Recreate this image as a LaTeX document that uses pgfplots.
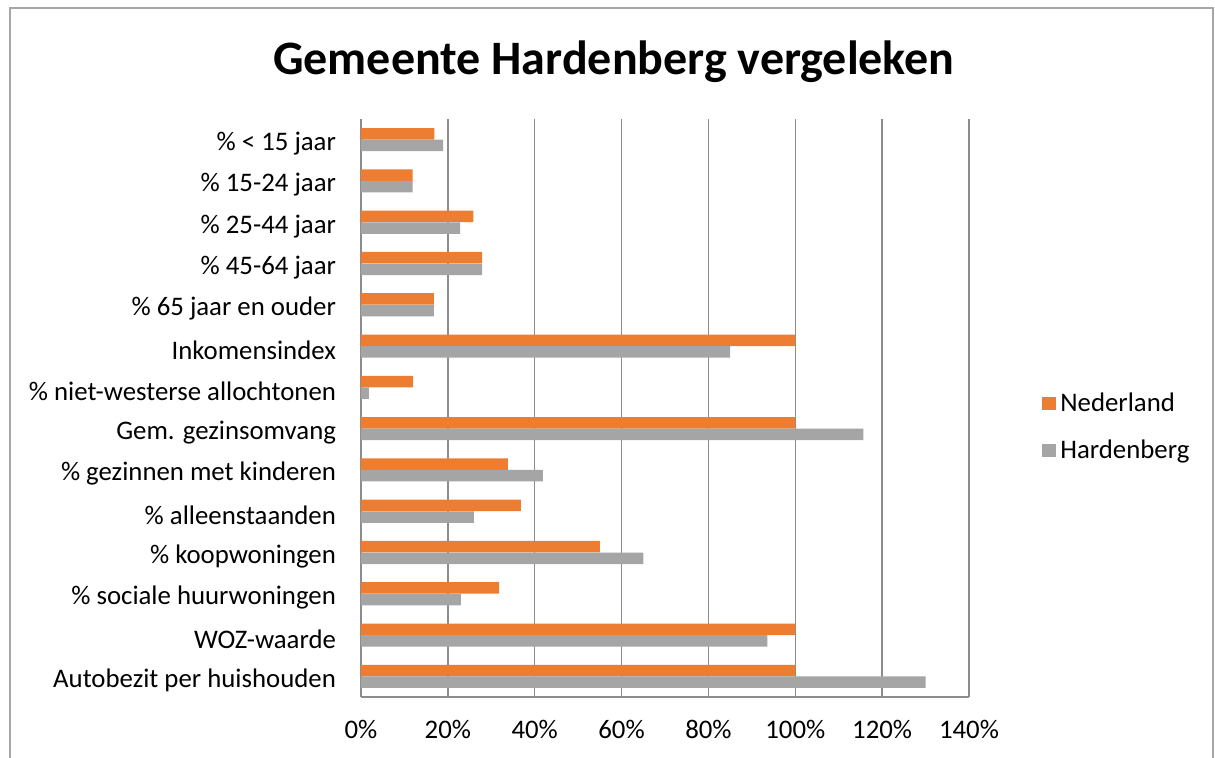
\documentclass[border=0pt]{standalone}
\usepackage{fontspec}
\setmainfont{Carlito}
\usepackage{pgfplots}
\pgfplotsset{compat=1.18}
\definecolor{ned}{HTML}{ED7D31}
\definecolor{har}{HTML}{A5A5A5}
\definecolor{gridc}{HTML}{8C8C8C}
\definecolor{framec}{HTML}{A6A6A6}

\begin{document}
\begin{tikzpicture}[x=1pt,y=1pt]
% page = 1215 x 758 px at 0.5pt/px, axis origin at px (361,697)
\useasboundingbox (-180.5,-30.5) rectangle (427,348.5);
\draw[framec, line width=0.6pt] (-175.5,-30.5) -- (-175.5,344.5) -- (426,344.5) -- (426,-30.5);
\node[anchor=base, font=\fontsize{24}{28}\selectfont\bfseries] at (126.5,311) {Gemeente Hardenberg vergeleken};
\begin{axis}[
    at={(0,0)}, anchor=south west,
    width=304pt, height=289pt, scale only axis,
    xbar, bar width=5.75pt,
    xmin=0, xmax=140, ymin=-0.5, ymax=13.5,
    xtick={0,20,...,140},
    xticklabels={0\%,20\%,40\%,60\%,80\%,100\%,120\%,140\%},
    ytick={0,...,13},
    yticklabels={Autobezit per huishouden, WOZ-waarde, \% sociale huurwoningen,
      \% koopwoningen, \% alleenstaanden, \% gezinnen met kinderen,
      Gem. gezinsomvang, \% niet-westerse allochtonen, Inkomensindex,
      \% 65 jaar en ouder, \% 45-64 jaar, \% 25-44 jaar, \% 15-24 jaar, \% < 15 jaar},
    xmajorgrids, grid style={gridc, line width=0.75pt},
    axis x line*=bottom, axis y line*=left,
    axis line style={gridc, line width=0.75pt, -},
    major tick length=0pt,
    tick label style={font=\fontsize{13.4}{16}\selectfont},
    yticklabel style={xshift=-9pt, yshift=-2pt},
    xticklabel style={yshift=-8pt},
    legend style={at={(1.12,0.467)}, anchor=west, draw=none, fill=none,
      font=\fontsize{13.4}{16}\selectfont, row sep=9pt, inner sep=0pt},
    legend cell align=left,
    legend image code/.code={\fill[#1] (-1.5pt,-3.3pt) rectangle (5.5pt,3.3pt);},
]
\addplot[fill=ned, draw=none, bar shift=2.9pt] coordinates {
  (100,0) (100,1) (31.8,2) (55,3) (36.8,4) (33.8,5) (100,6)
  (12,7) (100,8) (16.8,9) (27.9,10) (25.9,11) (11.9,12) (16.9,13)};
\addlegendentry{Nederland}
\addplot[fill=har, draw=none, bar shift=-2.9pt] coordinates {
  (130,0) (93.6,1) (23,2) (65,3) (26,4) (41.9,5) (115.7,6)
  (1.8,7) (85,8) (16.8,9) (27.9,10) (22.8,11) (11.9,12) (18.9,13)};
\addlegendentry{Hardenberg}
\end{axis}
\end{tikzpicture}
\end{document}
